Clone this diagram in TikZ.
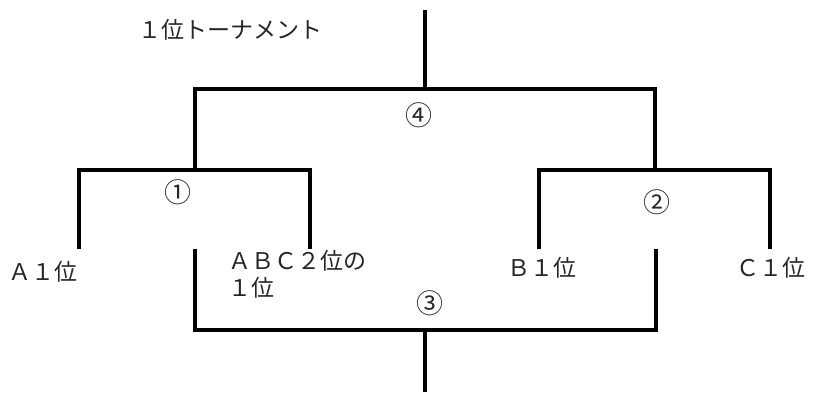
\documentclass[tikz,border=0pt]{standalone}
\usepackage{fontspec}
\newfontfamily\jpfont{Noto Sans CJK JP}
\usetikzlibrary{positioning}
\tikzset{bracket/.style={line width=3.5pt}, lbl/.style={font=\jpfont\fontsize{23}{27}\selectfont, inner sep=0pt, text=black!85}, matchno/.style={lbl, font=\jpfont\fontsize{27}{30}\selectfont}}

\begin{document}
\begin{tikzpicture}[x=1pt,y=-1pt]
\useasboundingbox (0,0) rectangle (813,392);

                 \coordinate (top) at (425,10);
                 \coordinate (m4) at (425,89);
                 \coordinate (m1) at (195,170);
                 \coordinate (m2) at (655,170);
                 \coordinate (a1) at (79,249);
                 \coordinate (abc) at (310,249);
                 \coordinate (b1) at (539,249);
                 \coordinate (c1) at (770,249);
                 \coordinate (m3l) at (195,249);
                 \coordinate (m3r) at (656,249);
                 \coordinate (m3) at (425,330);
                 \coordinate (bot) at (425,392);

                 % final
                 \draw[bracket] (top) -- (m4);
                 \draw[bracket] (m1) |- (m4) -| (m2);
                 % first round
                 \draw[bracket] (a1) |- (m1) -| (abc);
                 \draw[bracket] (b1) |- (m2) -| (c1);
                 % third place
                 \draw[bracket] (m3l) |- (m3) -| (m3r);
                 \draw[bracket] (m3) -- (bot);

                 \node[lbl] (title) at (230,30) {１位トーナメント};
                 \node[matchno] (n4) at (419,115) {④};
                 \node[matchno] (n1) at (178,192) {①};
                 \node[matchno] (n2) at (657,202) {②};
                 \node[matchno] (n3) at (430,303) {③};

                 \node[lbl, anchor=west] (ta) at (8,272) {Ａ１位};
                 \node[lbl, anchor=north west, align=left] (tabc) at (228,250) {ＡＢＣ２位の\\１位};
                 \node[lbl] (tb) at (542,268) {Ｂ１位};
                 \node[lbl] (tc) at (771,268) {Ｃ１位};

\end{tikzpicture}
\end{document}
